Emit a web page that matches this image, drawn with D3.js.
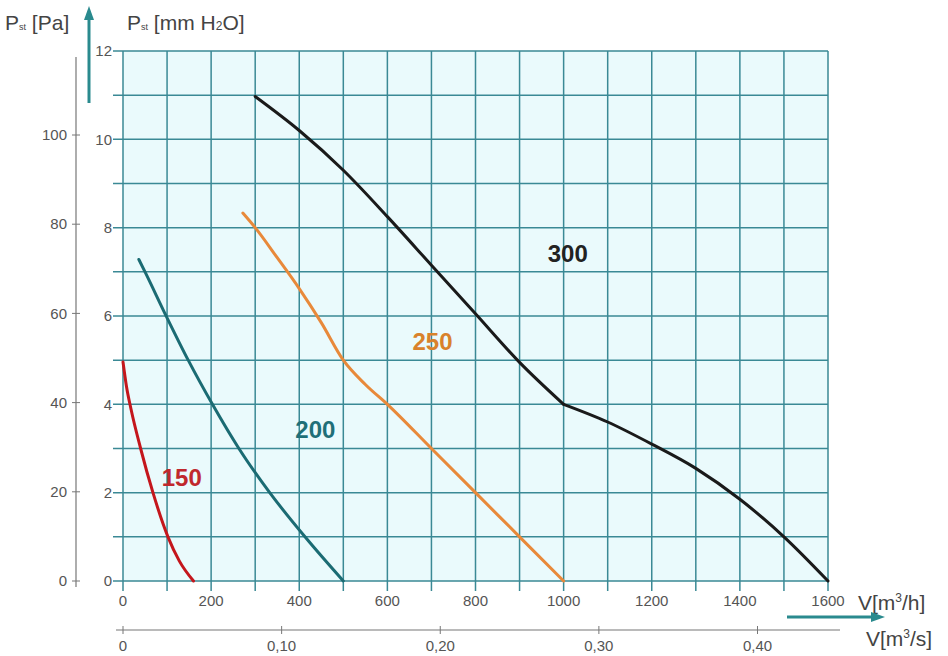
<!DOCTYPE html>
<html>
<head>
	<title></title>
	<script src="https://d3js.org/d3.v7.min.js"></script>
	<style>
		body { margin: 0; background: #fff; }
		svg { font-family: "Liberation Sans", Arial, sans-serif; }
		.tick-label { fill: #555; font-size: 15px; }
		.title { fill: #444; font-size: 21px; }
		.curve { fill: none; stroke-width: 3; stroke-linejoin: round; stroke-linecap: round; }
		.curve-label { font-size: 24px; font-weight: bold; }
	</style>
</head>
<body>
	<svg width="948" height="656"></svg>
<script type="text/javascript">

	// axis ticks
	var flowTicks = [0, 200, 400, 600, 800, 1000, 1200, 1400, 1600];
	var mmTicks = [0, 2, 4, 6, 8, 10, 12];
	var paTicks = [0, 20, 40, 60, 80, 100];
	var m3sTicks = [0, 0.1, 0.2, 0.3, 0.4];
	var m3sLabels = ["0", "0,10", "0,20", "0,30", "0,40"];

	// fan curves, [m3/h, mm H2O]
	var names = ["150", "200", "250", "300"];
	var curve150 = [[0, 4.96], [8, 4.4], [18, 3.9], [40, 3], [68, 2], [102, 1], [128, 0.45], [160, 0]];
	var curve200 = [[36, 7.28], [50, 7], [98, 6], [148, 5], [203, 4], [263, 3], [333, 2], [413, 1], [500, 0]];
	var curve250 = [[272, 8.33], [300, 8], [350, 7.32], [400, 6.62], [450, 5.85], [500, 5], [550, 4.45], [600, 4], [700, 3], [800, 2], [900, 1], [1000, 0]];
	var curve300 = [[300, 10.97], [400, 10.2], [500, 9.3], [600, 8.25], [700, 7.15], [800, 6.05], [900, 4.95], [1000, 4], [1100, 3.6], [1200, 3.1], [1300, 2.55], [1400, 1.85], [1500, 1.0], [1600, 0]];
	var kink300 = 1000;
	var labelPos = [[88, 2.15], [391, 3.24], [657, 5.23], [964, 7.22]];

	var colors = ["#c4161c", "#1b6b73", "#e8893a", "#1a1a1a"];
	var labelColors = ["#c0282d", "#1f6f78", "#d9822b", "#222"];

	var svg = d3.select("svg");

	var x = d3.scaleLinear().domain([0, 1600]).range([123, 828]);
	var y = d3.scaleLinear().domain([0, 12]).range([581, 51]);
	var yPa = d3.scaleLinear().domain([0, 100]).range([581, 135]);
	var xs = d3.scaleLinear().domain([0, 0.4]).range([123, 123 + 0.4 * 3600 * (705 / 1600)]);

	var grid = "#3a8995";

	// plot background
	svg.append("rect")
		.attr("x", x(0)).attr("y", y(12))
		.attr("width", x(1600) - x(0)).attr("height", y(0) - y(12))
		.attr("fill", "#eafafc");

	// horizontal grid every 1 mm
	svg.append("g").selectAll("line")
		.data(d3.range(0, 13))
		.enter().append("line")
		.attr("x1", x(0) - 10).attr("x2", x(1600))
		.attr("y1", function(d) { return y(d); })
		.attr("y2", function(d) { return y(d); })
		.attr("stroke", grid).attr("stroke-width", 1.5);

	// vertical grid every 100 m3/h
	svg.append("g").selectAll("line")
		.data(d3.range(0, 1700, 100))
		.enter().append("line")
		.attr("x1", function(d) { return x(d); })
		.attr("x2", function(d) { return x(d); })
		.attr("y1", y(12)).attr("y2", y(0) + 10)
		.attr("stroke", grid).attr("stroke-width", 1.5);

	// mm labels
	svg.append("g").selectAll("text")
		.data(mmTicks)
		.enter().append("text")
		.attr("class", "tick-label")
		.attr("x", x(0) - 11)
		.attr("y", function(d) { return y(d); })
		.attr("dy", "0.35em")
		.attr("text-anchor", "end")
		.text(function(d) { return d; });

	// m3/h labels
	svg.append("g").selectAll("text")
		.data(flowTicks)
		.enter().append("text")
		.attr("class", "tick-label")
		.attr("x", function(d) { return x(d); })
		.attr("y", y(0) + 20)
		.attr("dy", "0.35em")
		.attr("text-anchor", "middle")
		.text(function(d) { return d; });

	// Pa axis
	var paAxis = svg.append("g").attr("stroke", "#777");
	paAxis.append("line")
		.attr("x1", 76).attr("x2", 76)
		.attr("y1", 57).attr("y2", 587)
		.attr("stroke-width", 1.2);
	paAxis.selectAll(".pt")
		.data(paTicks)
		.enter().append("line")
		.attr("x1", 72).attr("x2", 80)
		.attr("y1", function(d) { return yPa(d); })
		.attr("y2", function(d) { return yPa(d); });
	svg.append("g").selectAll("text")
		.data(paTicks)
		.enter().append("text")
		.attr("class", "tick-label")
		.attr("x", 67)
		.attr("y", function(d) { return yPa(d); })
		.attr("dy", "0.35em")
		.attr("text-anchor", "end")
		.text(function(d) { return d; });

	// m3/s axis
	var sAxis = svg.append("g").attr("stroke", "#777");
	sAxis.append("line")
		.attr("x1", 116).attr("x2", 840)
		.attr("y1", 630).attr("y2", 630)
		.attr("stroke-width", 1.2);
	sAxis.selectAll(".st")
		.data(m3sTicks)
		.enter().append("line")
		.attr("x1", function(d) { return xs(d); })
		.attr("x2", function(d) { return xs(d); })
		.attr("y1", 626).attr("y2", 634);
	svg.append("g").selectAll("text")
		.data(m3sTicks)
		.enter().append("text")
		.attr("class", "tick-label")
		.attr("x", function(d) { return xs(d); })
		.attr("y", 646)
		.attr("dy", "0.35em")
		.attr("text-anchor", "middle")
		.text(function(d, i) { return m3sLabels[i]; });

	// curves (300 has a sharp knee, so it is drawn as two smooth pieces)
	var smooth = d3.line()
		.x(function(d) { return x(d[0]); })
		.y(function(d) { return y(d[1]); })
		.curve(d3.curveMonotoneX);

	var pieces = [
		{ pts: curve150, c: 0 },
		{ pts: curve200, c: 1 },
		{ pts: curve250, c: 2 },
		{ pts: curve300.filter(function(d) { return d[0] <= kink300; }), c: 3 },
		{ pts: curve300.filter(function(d) { return d[0] >= kink300; }), c: 3 }
	];

	svg.append("g").selectAll("path")
		.data(pieces)
		.enter().append("path")
		.attr("class", "curve")
		.attr("stroke", function(d) { return colors[d.c]; })
		.attr("d", function(d) { return smooth(d.pts); });

	svg.append("g").selectAll("text")
		.data(names)
		.enter().append("text")
		.attr("class", "curve-label")
		.attr("x", function(d, i) { return x(labelPos[i][0]); })
		.attr("y", function(d, i) { return y(labelPos[i][1]); })
		.attr("fill", function(d, i) { return labelColors[i]; })
		.text(function(d) { return d; });

	// axis titles
	var t1 = svg.append("text").attr("class", "title").attr("x", 5).attr("y", 30);
	t1.append("tspan").text("P");
	t1.append("tspan").attr("font-size", 9).text("st");
	t1.append("tspan").text(" [Pa]");

	var t2 = svg.append("text").attr("class", "title").attr("x", 127).attr("y", 30);
	t2.append("tspan").text("P");
	t2.append("tspan").attr("font-size", 9).text("st");
	t2.append("tspan").text(" [mm H");
	t2.append("tspan").attr("font-size", 12).text("2");
	t2.append("tspan").text("O]");

	var t3 = svg.append("text").attr("class", "title").attr("x", 858).attr("y", 610);
	t3.append("tspan").text("V[m");
	t3.append("tspan").attr("font-size", 12).attr("dy", -8).text("3");
	t3.append("tspan").attr("dy", 8).text("/h]");

	var t4 = svg.append("text").attr("class", "title").attr("x", 866).attr("y", 646);
	t4.append("tspan").text("V[m");
	t4.append("tspan").attr("font-size", 12).attr("dy", -8).text("3");
	t4.append("tspan").attr("dy", 8).text("/s]");

	// arrows
	var arrowColor = "#2a8a8e";
	svg.append("line")
		.attr("x1", 89).attr("x2", 89).attr("y1", 103).attr("y2", 18)
		.attr("stroke", arrowColor).attr("stroke-width", 3);
	svg.append("path")
		.attr("d", "M89,6 L84,20 L94,20 Z")
		.attr("fill", arrowColor);
	svg.append("line")
		.attr("x1", 787).attr("x2", 872).attr("y1", 617).attr("y2", 617)
		.attr("stroke", arrowColor).attr("stroke-width", 3);
	svg.append("path")
		.attr("d", "M885,617 L871,612 L871,622 Z")
		.attr("fill", arrowColor);

</script>
</body>
</html>
